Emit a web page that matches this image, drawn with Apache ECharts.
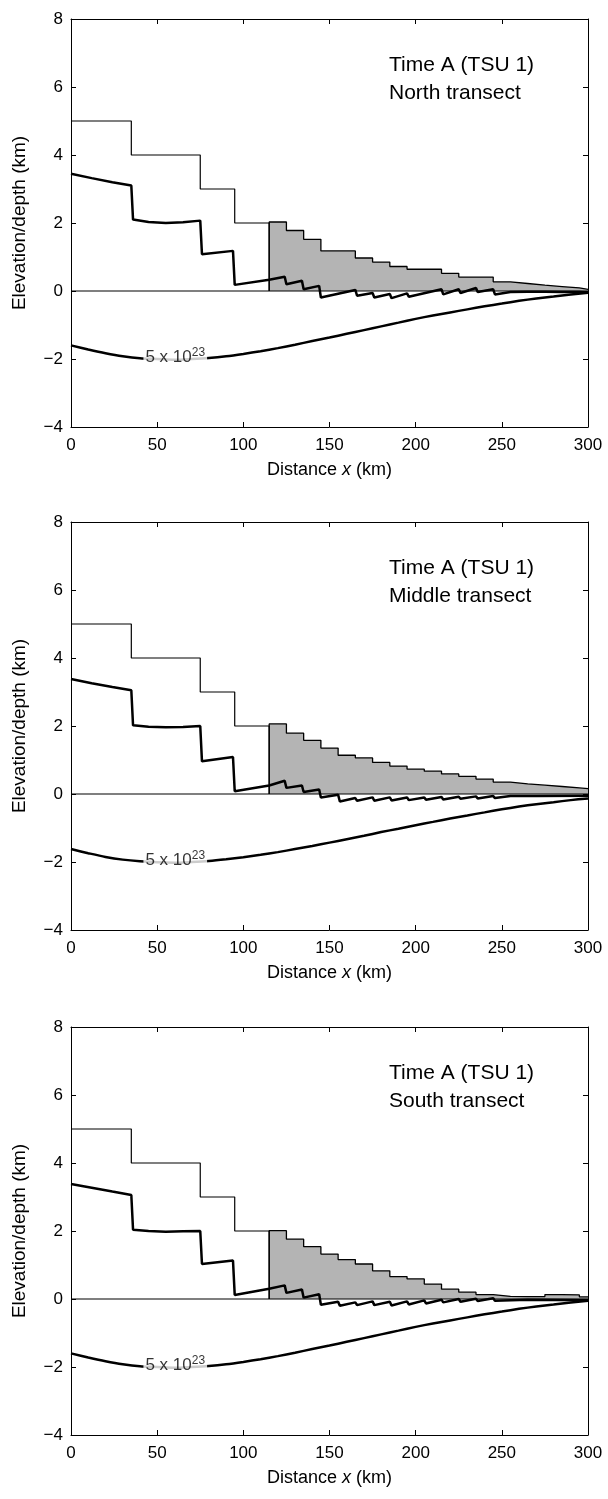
<!DOCTYPE html>
<html>
<head>
<meta charset="utf-8">
<script src="https://cdn.jsdelivr.net/npm/echarts@6/dist/echarts.min.js"></script>
<style>
  html, body { margin: 0; padding: 0; background: #fff; }
  #chart { width: 608px; height: 1499px; }
</style>
</head>
<body>
<div id="chart"></div>
<script>
// bedrock steps (thin line), same in all three transects
var basementStep = [[0, 5], [35, 5], [35, 4], [75, 4], [75, 3], [95, 3], [95, 2], [115, 2], [115, 0]]

// wedge top (grey fill), one value per 10 km step from 115 km
var wedgeX = [115, 125, 135, 145, 155, 165, 175, 185, 195, 205, 215, 225, 235, 245, 255, 265, 275, 285, 295]
var northWedge = [2.03, 1.78, 1.52, 1.18, 1.18, 0.97, 0.85, 0.72, 0.64, 0.64, 0.52, 0.41, 0.41, 0.27, 0.22, 0.17, 0.13, 0.09, 0.05]
var middleWedge = [2.06, 1.79, 1.58, 1.35, 1.14, 1.06, 0.93, 0.82, 0.73, 0.67, 0.59, 0.52, 0.44, 0.35, 0.30, 0.26, 0.22, 0.18, 0.16]
var southWedge = [2.01, 1.76, 1.54, 1.32, 1.16, 1.03, 0.83, 0.66, 0.59, 0.44, 0.29, 0.20, 0.13, 0.08, 0.07, 0.07, 0.13, 0.12, 0.06]

// thick profile (flexed surface + sawtooth)
var northProfile = [[0, 3.45], [12, 3.32], [24, 3.2], [35, 3.1], [36, 2.1], [45, 2.03], [55, 2.0], [65, 2.02], [75, 2.07], [76, 1.08], [94, 1.18], [95, 0.18],
  [115, 0.33], [124, 0.42], [125, 0.2], [134, 0.3], [135, 0.05], [144, 0.15], [145, -0.19], [165, 0.03], [166, -0.14], [175, -0.06], [176, -0.19],
  [185, -0.09], [186, -0.21], [195, -0.07], [196, -0.17], [215, 0.05], [216, -0.1], [225, 0.05], [226, -0.06], [235, 0.09], [236, -0.03],
  [245, 0.05], [246, -0.1], [255, -0.03], [256, -0.08], [265, -0.02], [266, -0.07], [275, -0.02], [276, -0.06], [285, -0.03], [286, -0.05], [300, -0.03]]
var middleProfile = [[0, 3.38], [12, 3.26], [24, 3.15], [35, 3.05], [36, 2.02], [45, 1.98], [55, 1.96], [65, 1.97], [75, 2.0], [76, 0.96], [94, 1.09], [95, 0.08],
  [115, 0.25], [124, 0.39], [125, 0.18], [134, 0.25], [135, 0.06], [144, 0.13], [145, -0.1], [155, -0.02], [156, -0.22], [165, -0.12], [166, -0.2],
  [175, -0.1], [176, -0.2], [185, -0.1], [186, -0.19], [195, -0.1], [196, -0.18], [205, -0.1], [206, -0.17], [215, -0.09], [216, -0.16],
  [225, -0.08], [226, -0.14], [235, -0.07], [236, -0.13], [245, -0.06], [246, -0.12], [255, -0.06], [256, -0.1], [270, -0.06], [300, -0.05]]
var southProfile = [[0, 3.38], [12, 3.27], [24, 3.16], [35, 3.06], [36, 2.04], [45, 2.0], [55, 1.98], [65, 1.99], [75, 2.0], [76, 1.03], [94, 1.13], [95, 0.12],
  [115, 0.3], [124, 0.4], [125, 0.18], [134, 0.28], [135, 0.04], [144, 0.14], [145, -0.17], [155, -0.08], [156, -0.2], [165, -0.1], [166, -0.18],
  [175, -0.07], [176, -0.18], [185, -0.08], [186, -0.19], [195, -0.07], [196, -0.16], [205, -0.04], [206, -0.13], [215, -0.02], [216, -0.1],
  [225, 0.0], [226, -0.08], [235, 0.01], [236, -0.06], [245, 0.02], [246, -0.05], [265, -0.02], [300, -0.04]]

// deflection curve labelled 5 x 10^23
var deflectX = [0, 10, 20, 30, 40, 50, 60, 70, 80, 90, 100, 110, 120, 130, 140, 150, 160, 170, 180, 190, 200, 210, 220, 230, 240, 250, 260, 270, 280, 290, 300]
var northDeflect = [-1.6, -1.72, -1.83, -1.92, -1.98, -2.0, -2.02, -2.0, -1.97, -1.92, -1.85, -1.77, -1.68, -1.58, -1.47, -1.37, -1.26, -1.15, -1.04, -0.93, -0.82, -0.72, -0.63, -0.54, -0.45, -0.37, -0.29, -0.22, -0.16, -0.1, -0.05]
var middleDeflect = [-1.62, -1.74, -1.85, -1.93, -1.98, -2.01, -2.02, -2.0, -1.97, -1.92, -1.86, -1.79, -1.71, -1.62, -1.53, -1.43, -1.33, -1.23, -1.12, -1.02, -0.92, -0.82, -0.72, -0.63, -0.54, -0.45, -0.37, -0.3, -0.24, -0.18, -0.13]
var southDeflect = [-1.6, -1.72, -1.83, -1.92, -1.98, -2.0, -2.02, -2.0, -1.97, -1.92, -1.85, -1.77, -1.68, -1.58, -1.47, -1.37, -1.26, -1.15, -1.04, -0.93, -0.82, -0.72, -0.63, -0.54, -0.45, -0.37, -0.29, -0.22, -0.16, -0.1, -0.05]

var panelNames = ['North transect', 'Middle transect', 'South transect']
var panelTops = [19, 522, 1027]
var xTicks = { min: 0, max: 300, interval: 50 }
var yTicks = { min: -4, max: 8, interval: 2 }

var font = "'Liberation Sans', Arial, sans-serif"
var wedges = [northWedge, middleWedge, southWedge]
var profiles = [northProfile, middleProfile, southProfile]
var deflects = [northDeflect, middleDeflect, southDeflect]

function stepData(xs, ys) {
  var d = [[xs[0], 0]]
  for (var i = 0; i < xs.length; i++) {
    d.push([xs[i], ys[i]])
    d.push([i + 1 < xs.length ? xs[i + 1] : xTicks.max, ys[i]])
  }
  return d
}

var myChart = echarts.init(document.getElementById('chart'))
var grids = [], xAxes = [], yAxes = [], series = [], titles = []

for (var p = 0; p < 3; p++) {
  grids.push({ left: 71, width: 517, top: panelTops[p], height: 408 })

  var line = { show: true, onZero: false, lineStyle: { color: '#000', width: 1 } }
  var tick = { show: true, inside: true, length: 5, lineStyle: { color: '#000', width: 1 } }

  xAxes.push({
    gridIndex: p, type: 'value', position: 'bottom', min: xTicks.min, max: xTicks.max, interval: xTicks.interval,
    axisLine: line, axisTick: tick, splitLine: { show: false },
    axisLabel: { color: '#000', fontSize: 17, fontFamily: font, margin: 10 },
    name: 'Distance {i|x} (km)', nameLocation: 'middle', nameGap: 34,
    nameTextStyle: { color: '#000', fontSize: 18, fontFamily: font, rich: { i: { fontStyle: 'italic', fontSize: 18, fontFamily: font, color: '#000' } } }
  })
  xAxes.push({
    gridIndex: p, type: 'value', position: 'top', min: xTicks.min, max: xTicks.max, interval: xTicks.interval,
    axisLine: line, axisTick: tick, splitLine: { show: false }, axisLabel: { show: false }
  })
  yAxes.push({
    gridIndex: p, type: 'value', position: 'left', min: yTicks.min, max: yTicks.max, interval: yTicks.interval,
    axisLine: line, axisTick: tick, splitLine: { show: false },
    axisLabel: { color: '#000', fontSize: 17, fontFamily: font, margin: 8, formatter: function (v) { return String(v).replace('-', '\u2212') } },
    name: 'Elevation/depth (km)', nameLocation: 'middle', nameGap: 42,
    nameTextStyle: { color: '#000', fontSize: 19, fontFamily: font }
  })
  yAxes.push({
    gridIndex: p, type: 'value', position: 'right', min: yTicks.min, max: yTicks.max, interval: yTicks.interval,
    axisLine: line, axisTick: tick, splitLine: { show: false }, axisLabel: { show: false }
  })

  var xi = p * 2, yi = p * 2

  // grey wedge
  series.push({
    type: 'line', xAxisIndex: xi, yAxisIndex: yi, symbol: 'none', z: 1,
    data: stepData(wedgeX, wedges[p]),
    lineStyle: { color: '#000', width: 1.3 },
    areaStyle: { color: '#b4b4b4', opacity: 1 }
  })
  // sea level
  series.push({
    type: 'line', xAxisIndex: xi, yAxisIndex: yi, symbol: 'none', z: 2,
    data: [[0, 0], [300, 0]], lineStyle: { color: '#000', width: 1.2 }
  })
  // bedrock steps
  series.push({
    type: 'line', xAxisIndex: xi, yAxisIndex: yi, symbol: 'none', z: 2,
    data: basementStep, lineStyle: { color: '#000', width: 1.2 }
  })
  // thick profile
  series.push({
    type: 'line', xAxisIndex: xi, yAxisIndex: yi, symbol: 'none', z: 3,
    data: profiles[p], lineStyle: { color: '#000', width: 2.5 }
  })
  // deflection
  series.push({
    type: 'line', xAxisIndex: xi, yAxisIndex: yi, symbol: 'none', z: 3, smooth: 0.3,
    data: deflectX.map(function (x, k) { return [x, deflects[p][k]] }),
    lineStyle: { color: '#000', width: 2.5 }
  })
  // curve label
  series.push({
    type: 'scatter', xAxisIndex: xi, yAxisIndex: yi, z: 10, symbolSize: 1,
    itemStyle: { color: 'rgba(0,0,0,0)' },
    data: [[60.5, -1.95]],
    label: {
      show: true, position: 'inside', color: '#000', formatter: '{n|5 x 10}{s|23}',
      backgroundColor: '#fff', padding: [0, 2, 0, 2],
      rich: {
        n: { fontSize: 17, fontFamily: font, color: '#000' },
        s: { fontSize: 12, fontFamily: font, color: '#000', padding: [0, 0, 10, 0] }
      }
    }
  })

  titles.push({
    text: 'Time A (TSU 1)\n' + panelNames[p], left: 384, top: panelTops[p] + 27,
    textStyle: { color: '#000', fontSize: 21, fontWeight: 'normal', fontFamily: font, lineHeight: 28 }
  })
}

myChart.setOption({
  animation: false,
  backgroundColor: '#fff',
  title: titles,
  grid: grids,
  xAxis: xAxes,
  yAxis: yAxes,
  series: series
})
</script>
</body>
</html>
